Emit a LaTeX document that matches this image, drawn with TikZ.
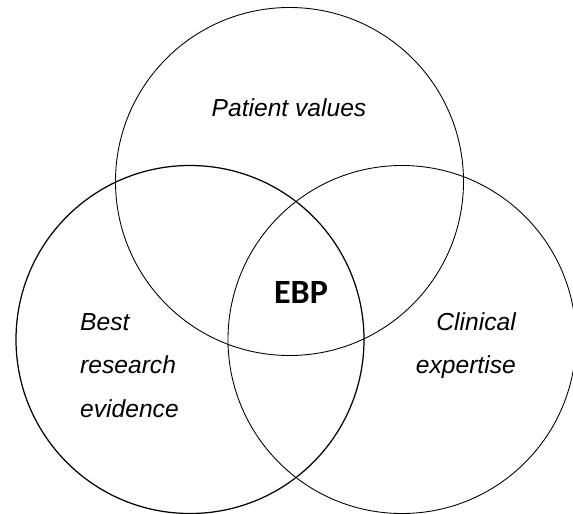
\documentclass[tikz,border=0pt]{standalone}
\usepackage{fontspec}
\usepackage{tikz}
\usetikzlibrary{positioning}
\setmainfont{Liberation Sans}
\newfontfamily\ebpfont{Carlito}

\begin{document}
\begin{tikzpicture}[x=0.03cm, y=-0.03cm,
    venn/.style={circle, draw, line width=0.75pt, minimum size=10.44cm, inner sep=0pt},
    label/.style={font=\fontsize{21}{25}\selectfont\itshape, inner sep=0pt}]

            \useasboundingbox (0,0) rectangle (573,513);

            % the three sets
            \node[venn] (PV) at (289.5,181.5) {};
            \node[venn, line width=1.05pt] (BR) at (190,339.5) {};
            \node[venn] (CE) at (402,339.5) {};

            % set names
            \node[label, anchor=base] (pv) at (289,117) {Patient values};
            \node[label, anchor=base west] (br1) at (80,330) {Best};
            \node[label, anchor=base west] (br2) at (80,373.5) {research};
            \node[label, anchor=base west] (br3) at (80,417) {evidence};
            \node[label, anchor=base east] (ce1) at (516,330) {Clinical};
            \node[label, anchor=base east] (ce2) at (516,373.5) {expertise};

            % the overlap
            \node[font=\ebpfont\fontsize{29}{32}\selectfont\bfseries, inner sep=0pt] (ebp) at (301,292) {EBP};

        \end{tikzpicture}
\end{document}
